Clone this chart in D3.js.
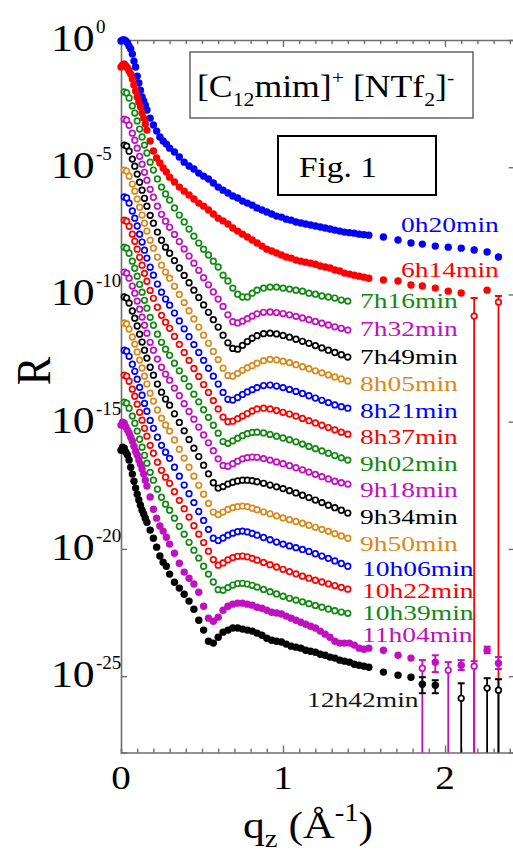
<!DOCTYPE html>
<html><head><meta charset="utf-8">
<script src="https://cdn.jsdelivr.net/npm/d3@7/dist/d3.min.js"></script>
<style>html,body{margin:0;padding:0;background:#fff;} text{font-family:'Liberation Serif','Times New Roman',Times,serif;}</style>
</head><body>
<svg id="chart" width="513" height="859" font-family="Liberation Serif"></svg>
<script>
// ---------------- data (q in 1/Å, values are log10 R) ----------------
const qDense = [0,0.01,0.02,0.03,0.04,0.05,0.06,0.07,0.08,0.09,0.10,0.11,0.12,0.13,0.14,0.15,0.16,
  0.18,0.20,0.22,0.24,0.26,0.28,0.30,
  0.33,0.36,0.39,0.42,0.45,0.48,0.51,0.54,0.57,0.60,0.63,0.66,0.69,0.72,0.75,0.78,0.81,0.84,0.87,0.90,
  0.93,0.96,0.99,1.02,1.05,1.08,1.11,1.14,1.17,1.20,1.23,1.26,1.29,1.32,1.35,1.38,1.41,1.44,1.47,1.50,1.53];
const qSparse = [1.62,1.71,1.79,1.86,1.94,2.02,2.10,2.18,2.26,2.33];
const qOpen = [0.02,0.035,0.05,0.07,0.085,0.10,0.115,0.13,0.145,0.16,0.18,0.20,0.225,0.25,0.275,0.30,
  0.33,0.36,0.39,0.42,0.45,0.48,0.51,0.54,0.57,0.60,0.63,0.66,0.69,0.72,0.75,0.78,0.81,0.84,
  0.88,0.92,0.96,1.00,1.04,1.08,1.12,1.16,1.20,1.24,1.28,1.32,1.36,1.40];

const lg_0h20 = [-0.04,0,0,-0.04,-0.12,-0.24,-0.35,-0.55,-0.83,-1.06,-1.42,-1.69,-1.97,-2.24,-2.40,-2.56,-2.75,
  -3.07,-3.34,-3.58,-3.81,-3.97,-4.09,-4.25,
  -4.40,-4.60,-4.80,-4.95,-5.07,-5.23,-5.35,-5.46,-5.62,-5.78,-5.90,-6.01,-6.13,-6.21,-6.33,-6.41,-6.49,-6.60,-6.68,-6.76,
  -6.84,-6.92,-6.96,-7.04,-7.08,-7.15,-7.19,-7.23,-7.27,-7.31,-7.35,-7.39,-7.43,-7.47,-7.51,-7.55,-7.57,-7.59,-7.63,-7.65,-7.67,
  -7.74,-7.86,-7.98,-8.02,-8.10,-8.14,-8.18,-8.25,-8.33,-8.53];
const lg_6h14 = [-1.06,-0.98,-0.94,-1.02,-1.10,-1.22,-1.34,-1.53,-1.77,-2.00,-2.24,-2.44,-2.63,-2.87,-3.07,-3.30,-3.54,
  -3.97,-4.36,-4.64,-4.83,-5.03,-5.19,-5.39,
  -5.58,-5.78,-5.94,-6.09,-6.25,-6.41,-6.53,-6.68,-6.84,-7.00,-7.11,-7.23,-7.39,-7.51,-7.63,-7.74,-7.86,-7.98,-8.10,-8.22,
  -8.29,-8.37,-8.45,-8.53,-8.57,-8.65,-8.69,-8.73,-8.77,-8.81,-8.88,-8.92,-8.96,-9.04,-9.08,-9.16,-9.20,-9.24,-9.28,-9.32,-9.36,
  -9.43,-9.47,-9.63,-9.67,-9.75,-9.87,-9.94,-10.85,-9.83,-10.30];
const hi_6h14 = [null,null,null,null,null,null,null,-10.14,null,-10.06];
const lo_6h14 = [null,null,null,null,null,null,null,-Infinity,null,-Infinity];

const lg_7h16 = [-2.04,-2.08,-2.28,-2.59,-2.87,-3.18,-3.50,-3.81,-4.13,-4.44,-4.80,-5.11,-5.46,-5.78,-6.05,-6.29,
  -6.60,-6.88,-7.15,-7.43,-7.71,-7.98,-8.22,-8.45,-8.69,-8.92,-9.24,-9.47,-9.75,-9.99,-10.10,-10.10,-9.95,-9.83,
  -9.75,-9.71,-9.71,-9.75,-9.79,-9.83,-9.87,-9.95,-9.99,-10.06,-10.10,-10.14,-10.22,-10.26];
const lg_7h32 = [-3.11,-3.15,-3.35,-3.66,-3.94,-4.25,-4.57,-4.88,-5.20,-5.51,-5.87,-6.18,-6.53,-6.85,-7.12,-7.36,
  -7.64,-7.92,-8.21,-8.49,-8.77,-9.05,-9.34,-9.62,-9.90,-10.18,-10.47,-10.80,-11.07,-11.12,-11.05,-10.95,-10.85,-10.76,
  -10.70,-10.69,-10.71,-10.75,-10.80,-10.86,-10.92,-10.99,-11.06,-11.13,-11.20,-11.27,-11.33,-11.40];
const lg_7h49 = [-4.13,-4.17,-4.37,-4.68,-4.96,-5.27,-5.59,-5.90,-6.22,-6.53,-6.89,-7.20,-7.55,-7.87,-8.14,-8.38,
  -8.67,-8.96,-9.25,-9.54,-9.83,-10.12,-10.41,-10.70,-10.99,-11.28,-11.60,-11.90,-12.12,-12.15,-12.00,-11.85,-11.72,-11.62,
  -11.54,-11.52,-11.55,-11.61,-11.68,-11.76,-11.84,-11.92,-12.01,-12.10,-12.19,-12.28,-12.37,-12.46];
const lg_8h05 = [-5.11,-5.15,-5.35,-5.66,-5.94,-6.25,-6.57,-6.88,-7.20,-7.51,-7.87,-8.18,-8.53,-8.85,-9.12,-9.36,
  -9.68,-10.00,-10.32,-10.64,-10.96,-11.28,-11.60,-11.92,-12.24,-12.56,-12.90,-13.18,-13.21,-13.10,-12.98,-12.88,-12.80,-12.70,
  -12.60,-12.55,-12.57,-12.62,-12.68,-12.76,-12.84,-12.92,-13.00,-13.08,-13.16,-13.24,-13.32,-13.40];
const lg_8h21 = [-6.17,-6.21,-6.41,-6.72,-7.00,-7.31,-7.63,-7.94,-8.26,-8.57,-8.93,-9.24,-9.59,-9.91,-10.18,-10.42,
  -10.73,-11.04,-11.35,-11.66,-11.97,-12.28,-12.59,-12.90,-13.21,-13.52,-13.85,-14.12,-14.15,-14.05,-13.93,-13.83,-13.74,-13.66,
  -13.58,-13.56,-13.60,-13.66,-13.73,-13.81,-13.89,-13.98,-14.07,-14.16,-14.25,-14.34,-14.41,-14.47];
const lg_8h37 = [-7.08,-7.12,-7.32,-7.63,-7.91,-8.22,-8.54,-8.85,-9.17,-9.48,-9.84,-10.15,-10.50,-10.82,-11.09,-11.33,
  -11.65,-11.96,-12.28,-12.59,-12.91,-13.22,-13.54,-13.85,-14.17,-14.50,-14.82,-15.00,-14.98,-14.88,-14.78,-14.68,-14.58,-14.50,
  -14.47,-14.50,-14.56,-14.63,-14.70,-14.78,-14.87,-14.96,-15.05,-15.14,-15.23,-15.32,-15.41,-15.49];
const lg_9h02 = [-8.14,-8.18,-8.38,-8.69,-8.97,-9.28,-9.60,-9.91,-10.23,-10.54,-10.90,-11.21,-11.56,-11.88,-12.15,-12.39,
  -12.70,-13.00,-13.31,-13.61,-13.92,-14.22,-14.53,-14.83,-15.14,-15.45,-15.78,-15.85,-15.75,-15.65,-15.55,-15.47,-15.42,-15.41,
  -15.44,-15.50,-15.57,-15.64,-15.71,-15.79,-15.88,-15.97,-16.06,-16.15,-16.24,-16.33,-16.42,-16.51];
const lg_9h18 = [-9.12,-9.16,-9.36,-9.67,-9.95,-10.26,-10.58,-10.89,-11.21,-11.52,-11.88,-12.19,-12.54,-12.86,-13.13,-13.37,
  -13.68,-13.98,-14.29,-14.60,-14.90,-15.21,-15.52,-15.83,-16.14,-16.46,-16.72,-16.75,-16.65,-16.55,-16.46,-16.41,-16.39,-16.40,
  -16.45,-16.51,-16.58,-16.65,-16.73,-16.81,-16.89,-16.98,-17.07,-17.16,-17.25,-17.34,-17.40,-17.45];
const lg_9h34 = [-10.10,-10.14,-10.34,-10.65,-10.93,-11.24,-11.56,-11.87,-12.19,-12.50,-12.86,-13.17,-13.52,-13.84,-14.11,-14.35,
  -14.69,-15.03,-15.36,-15.70,-16.04,-16.37,-16.71,-17.05,-17.40,-17.61,-17.55,-17.45,-17.38,-17.33,-17.30,-17.30,-17.32,-17.36,
  -17.42,-17.49,-17.56,-17.63,-17.71,-17.80,-17.89,-17.98,-18.08,-18.18,-18.28,-18.38,-18.48,-18.59];
const lg_9h50 = [-11.12,-11.16,-11.36,-11.67,-11.95,-12.26,-12.58,-12.89,-13.21,-13.52,-13.88,-14.19,-14.54,-14.86,-15.13,-15.37,
  -15.72,-16.08,-16.43,-16.79,-17.14,-17.50,-17.85,-18.21,-18.55,-18.65,-18.55,-18.45,-18.38,-18.34,-18.32,-18.34,-18.40,-18.46,
  -18.54,-18.62,-18.70,-18.78,-18.85,-18.92,-18.99,-19.07,-19.15,-19.23,-19.31,-19.40,-19.49,-19.58];
const lg_10h06 = [-12.19,-12.23,-12.43,-12.74,-13.02,-13.33,-13.65,-13.96,-14.28,-14.59,-14.95,-15.26,-15.61,-15.93,-16.20,-16.44,
  -16.79,-17.14,-17.49,-17.83,-18.18,-18.53,-18.88,-19.23,-19.58,-19.67,-19.57,-19.46,-19.38,-19.32,-19.30,-19.33,-19.39,-19.46,
  -19.55,-19.64,-19.73,-19.81,-19.88,-19.95,-20.02,-20.10,-20.19,-20.28,-20.37,-20.47,-20.57,-20.68];
const lg_10h22 = [-13.17,-13.21,-13.41,-13.72,-14.00,-14.31,-14.63,-14.94,-15.26,-15.57,-15.93,-16.24,-16.59,-16.91,-17.18,-17.42,
  -17.75,-18.09,-18.42,-18.75,-19.09,-19.42,-19.75,-20.09,-20.42,-20.64,-20.55,-20.43,-20.34,-20.29,-20.28,-20.31,-20.37,-20.44,
  -20.53,-20.62,-20.71,-20.80,-20.89,-20.98,-21.07,-21.15,-21.23,-21.30,-21.37,-21.44,-21.51,-21.58];
const lg_10h39 = [-14.23,-14.27,-14.47,-14.78,-15.06,-15.37,-15.69,-16.00,-16.32,-16.63,-16.99,-17.30,-17.65,-17.97,-18.24,-18.48,
  -18.79,-19.11,-19.42,-19.74,-20.05,-20.36,-20.68,-20.99,-21.30,-21.60,-21.62,-21.52,-21.42,-21.36,-21.35,-21.38,-21.43,-21.50,
  -21.59,-21.68,-21.77,-21.86,-21.94,-22.01,-22.08,-22.15,-22.22,-22.29,-22.36,-22.43,-22.48,-22.53];

const lg_11h04 = [-15.13,-15.02,-15.06,-15.21,-15.33,-15.45,-15.61,-15.76,-15.96,-16.16,-16.31,-16.51,-16.67,-16.86,-17.06,-17.30,-17.53,
  -17.96,-18.44,-18.79,-19.10,-19.30,-19.54,-19.81,
  -20.17,-20.56,-20.91,-21.15,-21.38,-21.70,-22.25,-22.72,-22.84,-22.68,-22.41,-22.25,-22.17,-22.13,-22.13,-22.17,-22.21,-22.29,-22.33,-22.41,
  -22.49,-22.52,-22.56,-22.64,-22.72,-22.80,-22.88,-22.96,-23.04,-23.11,-23.23,-23.35,-23.47,-23.63,-23.70,-23.70,-23.70,-23.78,-23.90,-23.94,-23.90,
  -23.98,-24.18,-24.29,-24.69,-24.45,-24.77,-24.57,-24.61,-23.98,-24.49];
const hi_11h04 = [null,null,null,-24.37,-24.18,-24.45,-24.37,-24.41,-23.84,-24.25];
const lo_11h04 = [null,null,null,-Infinity,-24.84,-Infinity,-24.76,-Infinity,-24.10,-24.72];

const lg_12h42 = [-16.12,-16.00,-16.04,-16.20,-16.31,-16.51,-16.79,-17.06,-17.34,-17.61,-17.85,-18.08,-18.28,-18.48,-18.63,-18.79,-18.95,
  -19.26,-19.58,-19.93,-20.28,-20.52,-20.68,-20.99,
  -21.31,-21.54,-21.78,-22.05,-22.37,-22.80,-23.19,-23.63,-23.70,-23.47,-23.27,-23.19,-23.11,-23.11,-23.15,-23.19,-23.23,-23.31,-23.39,-23.51,
  -23.59,-23.63,-23.66,-23.74,-23.82,-23.86,-23.90,-23.98,-24.02,-24.06,-24.14,-24.18,-24.25,-24.29,-24.37,-24.41,-24.45,-24.53,-24.57,-24.61,-24.65,
  -24.84,-24.96,-25.04,-25.32,-25.36,null,-25.87,null,-25.47,-25.55];
const hi_12h42 = [null,null,null,-25.04,-25.16,null,-25.28,null,-25.08,-25.12];
const lo_12h42 = [null,null,null,-25.67,-25.67,null,-Infinity,null,-Infinity,-Infinity];

const seriesNames = ["0h20min","6h14min","7h16min","7h32min","7h49min","8h05min","8h21min","8h37min","9h02min",
  "9h18min","9h34min","9h50min","10h06min","10h22min","10h39min","11h04min","12h42min"];
const yTickExp = [0,-5,-10,-15,-20,-25];
const xTickLabels = [0,1,2];

// ---------------- styles / layout ----------------
const FONT = "'Liberation Serif','Times New Roman',Times,serif";
const BLUE="#0000ff", RED="#ff0000", GREEN="#128a12", MAG="#c010c0", BLK="#000000", ORG="#d98a1c";
const qFilled = qDense.concat(qSparse);
const series = [
  {q:qFilled, lg:lg_0h20, c:BLUE, open:false},
  {q:qFilled, lg:lg_6h14, c:RED, open:false, hi:hi_6h14, lo:lo_6h14},
  {q:qOpen, lg:lg_7h16, c:GREEN, open:true},
  {q:qOpen, lg:lg_7h32, c:MAG, open:true},
  {q:qOpen, lg:lg_7h49, c:BLK, open:true},
  {q:qOpen, lg:lg_8h05, c:ORG, open:true},
  {q:qOpen, lg:lg_8h21, c:BLUE, open:true},
  {q:qOpen, lg:lg_8h37, c:RED, open:true},
  {q:qOpen, lg:lg_9h02, c:GREEN, open:true},
  {q:qOpen, lg:lg_9h18, c:MAG, open:true},
  {q:qOpen, lg:lg_9h34, c:BLK, open:true},
  {q:qOpen, lg:lg_9h50, c:ORG, open:true},
  {q:qOpen, lg:lg_10h06, c:BLUE, open:true},
  {q:qOpen, lg:lg_10h22, c:RED, open:true},
  {q:qOpen, lg:lg_10h39, c:GREEN, open:true},
  {q:qFilled, lg:lg_11h04, c:MAG, open:false, hi:hi_11h04, lo:lo_11h04},
  {q:qFilled, lg:lg_12h42, c:BLK, open:false, hi:hi_12h42, lo:lo_12h42}
];
const labelPos = [[401,232],[401,277],[360,308],[360,336],[360,364],[360,391],[360,418],[360,444],[360,471],
  [360,497],[360,524],[360,551],[362,576],[362,598],[362,620],[362,642],[307,707]];
const labelColor = [BLUE,RED,GREEN,MAG,BLK,ORG,BLUE,RED,GREEN,MAG,BLK,ORG,BLUE,RED,GREEN,MAG,"#151515"];

const svg = d3.select("#chart");
const QMAX = 2.43;
const x = d3.scaleLinear().domain([0, QMAX]).range([121, 121 + 162*QMAX]);
const y = d3.scaleLog().domain([1e-28, 1]).range([752.5, 40]);
const AX = "#6e6e6e";
const SX = 1.15;
function txt(g, px, py, size, fill, anchor, extra, sx){
  return g.append("text")
    .attr("transform", `translate(${px},${py}) scale(${sx || SX},1)` + (extra||""))
    .attr("font-family", FONT)
    .attr("font-size", size).attr("fill", fill || "#000")
    .attr("text-anchor", anchor || "start");
}

// ---------------- axes ----------------
const xTicks = d3.range(1, 25).map(i => i/10);
const isMajor = d => Math.abs(d - Math.round(d)) < 1e-9;
const gB = svg.append("g").attr("transform", `translate(0,${y(1e-28)})`)
  .call(d3.axisBottom(x).tickValues(xTicks).tickSizeOuter(0).tickSize(-4).tickFormat(""));
gB.selectAll(".tick line").attr("y2", d => isMajor(d) ? -7 : -4);
const gT = svg.append("g").attr("transform", `translate(0,${y(1)})`)
  .call(d3.axisTop(x).tickValues(xTicks).tickSizeOuter(0).tickSize(-4).tickFormat(""));
gT.selectAll(".tick line").attr("y2", d => isMajor(d) ? 7 : 4);
const yTicks = yTickExp.filter(e => e < 0).map(e => Math.pow(10, e));
const gL = svg.append("g").attr("transform", `translate(${x(0)},0)`)
  .call(d3.axisLeft(y).tickValues(yTicks).tickSizeOuter(0).tickSize(-6).tickFormat(""));
const gR = svg.append("g").attr("transform", `translate(${x(QMAX)},0)`)
  .call(d3.axisRight(y).tickValues(yTicks).tickSizeOuter(0).tickSize(-6).tickFormat(""));
[gB, gT, gL, gR].forEach(g => {
  g.selectAll("path.domain").attr("stroke", AX).attr("stroke-width", 1.6);
  g.selectAll(".tick line").attr("stroke", AX).attr("stroke-width", 1.4);
});

// tick labels
const gTL = svg.append("g");
yTickExp.forEach(e => {
  const yy = y(Math.pow(10, e));
  txt(gTL, 51, yy + 11, 38, "#000", "start").text("10");
  gTL.append("text").attr("x", 96).attr("y", yy - 7).attr("font-family", FONT)
    .attr("font-size", 19).attr("fill", "#000").text(String(e));
});
xTickLabels.forEach(v => { txt(gTL, x(v), 789, 34, "#000", "middle").text(String(v)); });

// axis titles
txt(svg, 50, 371, 43, "#000", "middle", " rotate(-90)").text("R");
const xl = txt(svg, 243, 838, 38, "#000", "start");
xl.append("tspan").text("q");
xl.append("tspan").attr("font-size", 25).attr("dy", 9).text("z");
xl.append("tspan").attr("font-size", 38).attr("dy", -9).text(" (Å");
xl.append("tspan").attr("font-size", 25).attr("dy", -17).text("-1");
xl.append("tspan").attr("font-size", 38).attr("dy", 17).text(")");

// ---------------- data marks ----------------
const yBottom = y.range()[0];
const yOf = v => (v === -Infinity) ? yBottom : Math.min(yBottom, y(Math.pow(10, v)));
series.forEach(s => {
  const g = svg.append("g");
  const nD = qDense.length;
  const pts = s.q.map((q, i) => ({q, v: s.lg[i], i})).filter(p => p.v !== null && p.v !== undefined);
  if (s.hi) {
    const eb = pts.filter(p => p.i >= nD && s.hi[p.i - nD] !== null);
    g.selectAll("line.eb").data(eb).join("line").attr("class", "eb")
      .attr("x1", p => x(p.q)).attr("x2", p => x(p.q))
      .attr("y1", p => yOf(s.hi[p.i - nD])).attr("y2", p => yOf(s.lo[p.i - nD]))
      .attr("stroke", s.c).attr("stroke-width", 1.8);
    g.selectAll("line.cap").data(eb).join("line").attr("class", "cap")
      .attr("x1", p => x(p.q) - 3.5).attr("x2", p => x(p.q) + 3.5)
      .attr("y1", p => yOf(s.hi[p.i - nD])).attr("y2", p => yOf(s.hi[p.i - nD]))
      .attr("stroke", s.c).attr("stroke-width", 2);
    g.selectAll("line.capl").data(eb.filter(p => s.lo[p.i - nD] !== -Infinity)).join("line").attr("class", "capl")
      .attr("x1", p => x(p.q) - 3.5).attr("x2", p => x(p.q) + 3.5)
      .attr("y1", p => yOf(s.lo[p.i - nD])).attr("y2", p => yOf(s.lo[p.i - nD]))
      .attr("stroke", s.c).attr("stroke-width", 2);
  }
  const isOpen = p => s.open || (s.lo && p.i >= nD && s.lo[p.i - nD] === -Infinity);
  g.selectAll("circle").data(pts).join("circle")
    .attr("cx", p => x(p.q)).attr("cy", p => y(Math.pow(10, p.v)))
    .attr("r", p => isOpen(p) ? 2.8 : 3.7)
    .attr("fill", p => isOpen(p) ? "#fff" : s.c)
    .attr("stroke", p => isOpen(p) ? s.c : "none")
    .attr("stroke-width", 1.7);
});

// series labels (22px glyphs, widened to the reference's proportions)
const gLab = svg.append("g");
seriesNames.forEach((n, i) => { txt(gLab, labelPos[i][0], labelPos[i][1], 21, labelColor[i], "start", "", 1.31).text(n); });

// ---------------- annotation boxes ----------------
svg.append("rect").attr("x", 190).attr("y", 52).attr("width", 283).attr("height", 66)
  .attr("fill", "#fff").attr("stroke", AX).attr("stroke-width", 1.6);
const bt = txt(svg, 197, 97, 31, "#000", "start");
bt.append("tspan").text("[C");
bt.append("tspan").attr("font-size", 19).attr("dy", 9).text("12");
bt.append("tspan").attr("font-size", 31).attr("dy", -9).text("mim]");
bt.append("tspan").attr("font-size", 19).attr("dy", -13).text("+");
bt.append("tspan").attr("font-size", 31).attr("dy", 13).text(" [NTf");
bt.append("tspan").attr("font-size", 19).attr("dy", 9).text("2");
bt.append("tspan").attr("font-size", 31).attr("dy", -9).text("]");
bt.append("tspan").attr("font-size", 19).attr("dy", -13).text("-");

svg.append("rect").attr("x", 278).attr("y", 136).attr("width", 158).attr("height", 59)
  .attr("fill", "#fff").attr("stroke", "#000").attr("stroke-width", 2);
txt(svg, 299, 177, 29, "#000", "start").text("Fig. 1");
</script>
</body></html>
